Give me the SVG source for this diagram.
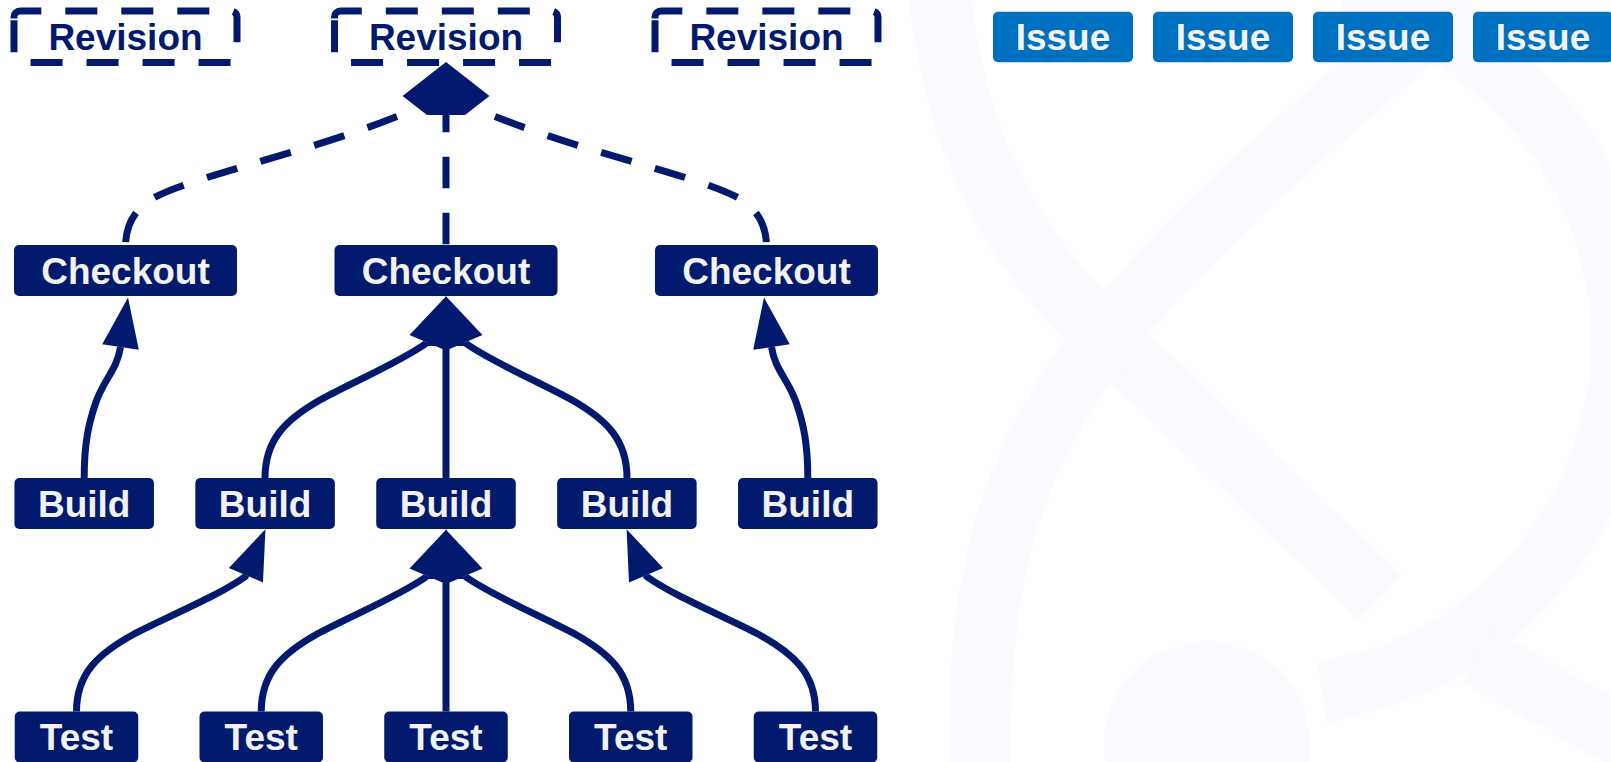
<svg xmlns="http://www.w3.org/2000/svg" width="1611" height="762" viewBox="0 0 1611 762">
<style>
.wm{fill:none;stroke:#fafaff;stroke-width:62}
.wmf{fill:#fafaff}
.edge{fill:none;stroke:#011a6e;stroke-width:7;stroke-linejoin:round}
.dash{stroke-dasharray:31.6 24.4}
.rev{fill:none;stroke:#011a6e;stroke-width:7;stroke-dasharray:32 24}
.nd{fill:#011a6e}
.iss{fill:#0070c0}
.t{font-family:"Liberation Sans",Arial,sans-serif;font-weight:bold;font-size:37px;text-anchor:middle}
.tw{fill:#f2f2f2}
.tn{fill:#011a6e}
</style>
<defs>
<marker id="arr" markerUnits="userSpaceOnUse" viewBox="0 -20 52 40" markerWidth="52" markerHeight="40" refX="0" refY="0" orient="auto" overflow="visible">
<path d="M0,-18.5 L50,0 L0,18.5 Z" fill="#011a6e"/>
</marker>
<path id="revbox" d="M14,18.5 V17 A6,6 0 0 1 20,11 H231 A6,6 0 0 1 237,17 V56.5 A6,6 0 0 1 231,62.5 H20 A6,6 0 0 1 14,56.5 Z"/>
</defs>
<rect width="1611" height="762" fill="#ffffff"/>
<g id="watermark">
<path class="wm" d="M940,-5 C952,120 1000,240 1105,335 L1380,597"/>
<path class="wm" d="M1465,-5 C1330,110 1180,240 1100,345 C1020,450 975,560 980,770"/>
<path class="wm" stroke-width="56" d="M1322,692 A355,355 0 0 0 1345,-5"/>
<path class="wm" stroke-width="56" d="M1478,656 L1630,742"/>
<circle class="wmf" cx="1207" cy="744" r="103"/>
</g>
<g id="connectors">
<path class="edge dash" d="M397,116.5 C300,155 185,178 150,200 C132,212 126,228 125.5,245"/>
<path class="edge dash" d="M446,100.7 V245"/>
<path class="edge dash" d="M495,116.5 C592,155 707,178 742,200 C760,212 766,228 766.5,245"/>
<polygon points="446,62 489.5,96 465,115 427,115 402.5,96" fill="#011a6e"/>
<path class="edge" marker-end="url(#arr)" d="M84.2,478 C84.2,445 88,425 96,402 C104,379 117,370 120.5,347"/>
<path class="edge" marker-end="url(#arr)" d="M265,478 C265,440 285,420 320,400 C355,381 400,362 426,343.5 L426.55,342.2"/>
<path class="edge" marker-end="url(#arr)" d="M446,478 V346"/>
<path class="edge" marker-end="url(#arr)" d="M627,478 C627,440 607,420 572,400 C537,381 492,362 466,343.5 L465.45,342.2"/>
<path class="edge" marker-end="url(#arr)" d="M807.8,478 C807.8,445 804,425 796,402 C788,379 775,370 771.5,347"/>
<path class="edge" marker-end="url(#arr)" d="M76.5,711.5 C76.5,673.5 98,653.5 135,633.5 C172,614.5 219,595.5 245.4,576.5 L245.95,575.2"/>
<path class="edge" marker-end="url(#arr)" d="M261.25,711.5 C261.25,673.5 282,653.5 318,633.5 C354,614.5 400,595.5 426,577 L426.55,575.7"/>
<path class="edge" marker-end="url(#arr)" d="M446,711.5 V579"/>
<path class="edge" marker-end="url(#arr)" d="M630.75,711.5 C630.75,673.5 610,653.5 574,633.5 C538,614.5 492,595.5 466,577 L465.45,575.7"/>
<path class="edge" marker-end="url(#arr)" d="M815.5,711.5 C815.5,673.5 794,653.5 757,633.5 C720,614.5 673,595.5 646.6,576.5 L646.05,575.2"/>
</g>
<g id="revision1"><use href="#revbox" class="rev"/><text class="t tn" x="125.5" y="50">Revision</text></g>
<g id="revision2" transform="translate(320.5,0)"><use href="#revbox" class="rev"/><text class="t tn" x="125.5" y="50">Revision</text></g>
<g id="revision3" transform="translate(641,0)"><use href="#revbox" class="rev"/><text class="t tn" x="125.5" y="50">Revision</text></g>
<g id="issue1"><rect class="iss" x="993" y="11.7" width="140" height="50.5" rx="5"/><text class="t tw" x="1063" y="50.2">Issue</text></g>
<g id="issue2"><rect class="iss" x="1153" y="11.7" width="140" height="50.5" rx="5"/><text class="t tw" x="1223" y="50.2">Issue</text></g>
<g id="issue3"><rect class="iss" x="1313" y="11.7" width="140" height="50.5" rx="5"/><text class="t tw" x="1383" y="50.2">Issue</text></g>
<g id="issue4"><rect class="iss" x="1473" y="11.7" width="140" height="50.5" rx="5"/><text class="t tw" x="1543" y="50.2">Issue</text></g>
<g id="checkout1"><rect class="nd" x="14" y="245" width="223" height="51" rx="5"/><text class="t tw" x="125.5" y="283.7">Checkout</text></g>
<g id="checkout2"><rect class="nd" x="334.5" y="245" width="223" height="51" rx="5"/><text class="t tw" x="446" y="283.7">Checkout</text></g>
<g id="checkout3"><rect class="nd" x="655" y="245" width="223" height="51" rx="5"/><text class="t tw" x="766.5" y="283.7">Checkout</text></g>
<g id="build1"><rect class="nd" x="14.45" y="478" width="139.5" height="51" rx="5"/><text class="t tw" x="84.2" y="516.7">Build</text></g>
<g id="build2"><rect class="nd" x="195.35" y="478" width="139.5" height="51" rx="5"/><text class="t tw" x="265.1" y="516.7">Build</text></g>
<g id="build3"><rect class="nd" x="376.25" y="478" width="139.5" height="51" rx="5"/><text class="t tw" x="446" y="516.7">Build</text></g>
<g id="build4"><rect class="nd" x="557.15" y="478" width="139.5" height="51" rx="5"/><text class="t tw" x="626.9" y="516.7">Build</text></g>
<g id="build5"><rect class="nd" x="738.05" y="478" width="139.5" height="51" rx="5"/><text class="t tw" x="807.8" y="516.7">Build</text></g>
<g id="test1"><rect class="nd" x="14.75" y="711.5" width="123.5" height="51" rx="5"/><text class="t tw" x="76.5" y="750.2">Test</text></g>
<g id="test2"><rect class="nd" x="199.5" y="711.5" width="123.5" height="51" rx="5"/><text class="t tw" x="261.25" y="750.2">Test</text></g>
<g id="test3"><rect class="nd" x="384.25" y="711.5" width="123.5" height="51" rx="5"/><text class="t tw" x="446" y="750.2">Test</text></g>
<g id="test4"><rect class="nd" x="569" y="711.5" width="123.5" height="51" rx="5"/><text class="t tw" x="630.75" y="750.2">Test</text></g>
<g id="test5"><rect class="nd" x="753.75" y="711.5" width="123.5" height="51" rx="5"/><text class="t tw" x="815.5" y="750.2">Test</text></g>
</svg>
